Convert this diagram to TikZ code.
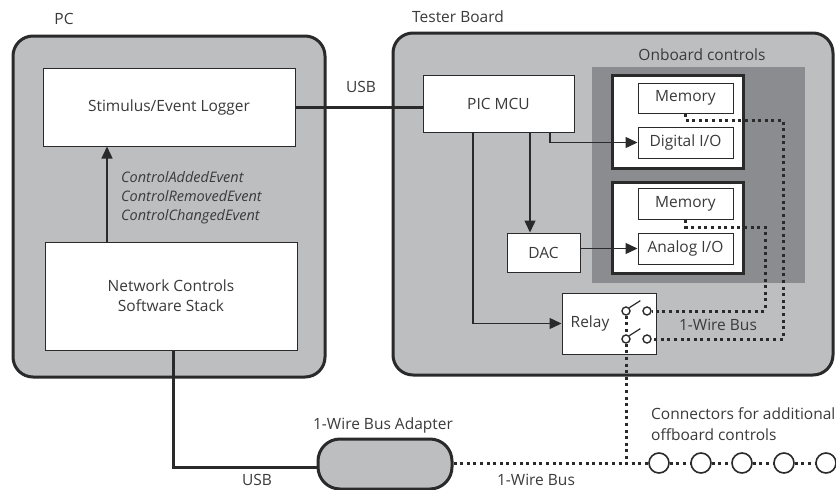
\documentclass[tikz,border=0pt]{standalone}
\usepackage{fontspec}
\setmainfont{Open Sans}
\usetikzlibrary{positioning, arrows.meta, calc}
\definecolor{boardgray}{HTML}{BCBEC0}
\definecolor{ctrlgray}{HTML}{8A8C8F}
\definecolor{linegray}{HTML}{2A2A2A}
\definecolor{textgray}{HTML}{3A3A3A}
\tikzset{
  container/.style={
    draw=linegray,
    line width=3pt,
    rounded corners=20pt,
    fill=boardgray,
    inner sep=0pt
  },
  block/.style={
    draw=linegray,
    line width=1pt,
    fill=white,
    align=center,
    inner sep=0pt,
    text=textgray,
    font=\fontsize{15.5}{20}\selectfont
  },
  module/.style={
    draw=linegray,
    line width=3pt,
    fill=white,
    inner sep=0pt
  },
  caption/.style={
    text=textgray,
    inner sep=0pt,
    font=\fontsize{15.5}{20}\selectfont
  },
  wire/.style={
    draw=linegray,
    line width=3pt
  },
  bus/.style={
    draw=linegray,
    line width=3pt,
    dash pattern=on 3pt off 3.6pt
  },
  signal/.style={
    draw=linegray,
    line width=1.4pt,
    -{Triangle[length=12pt,width=11pt]}
  },
  contact/.style={
    circle,
    draw=linegray,
    line width=1.4pt,
    fill=white,
    minimum size=8pt,
    inner sep=0pt
  },
  jack/.style={
    circle,
    draw=linegray,
    line width=1.6pt,
    fill=white,
    minimum size=20pt,
    inner sep=0pt
  }
}
\begin{document}
\begin{tikzpicture}[x=1pt, y=-1pt]
  \useasboundingbox[fill=white] (0,0) rectangle (836,490);

  % PC side
  \node[container, minimum width=312pt, minimum height=341pt] (pc) at (169,206.5) {};
  \node[caption] (pctitle) at (64,19) {PC};
  \node[block, minimum width=252pt, minimum height=78pt] (logger) at (169,107) {Stimulus/Event Logger};
  \node[block, minimum width=252pt, minimum height=108pt] (netstack) at (171,296) {Network Controls\\Software Stack};
  \draw[signal] ([xshift=-64pt]netstack.north) coordinate (evt) -- (evt |- logger.south);
  \node[caption, anchor=west, align=left, font=\fontsize{14.5}{19}\itshape] (events) at (121,198)
    {ControlAddedEvent\\ControlRemovedEvent\\ControlChangedEvent};

  % tester board
  \node[container, minimum width=440pt, minimum height=342pt] (board) at (613,204) {};
  \node[caption] (boardtitle) at (458,17) {Tester Board};
  \fill[ctrlgray] (592,67) rectangle (805,283);
  \node[caption] (ctrltitle) at (702,55) {Onboard controls};

  \node[block, minimum width=151pt, minimum height=57pt] (pic) at (498.5,103.5) {PIC MCU};
  \node[block, minimum width=73pt, minimum height=39pt] (dac) at (543.5,252.5) {DAC};
  \node[block, minimum width=94pt, minimum height=61pt] (relay) at (609,323.5) {};
  \node[caption] (relaytext) at (590,323) {Relay};

  \node[module, minimum width=131pt, minimum height=93pt] (digmod) at (677.5,121.5) {};
  \node[block, minimum width=95pt, minimum height=30pt] (mem1) at (685.5,98) {Memory};
  \node[block, minimum width=95pt, minimum height=31pt] (digio) at (685.5,142.5) {Digital I/O};
  \node[module, minimum width=131pt, minimum height=91pt] (anamod) at (677.5,227.5) {};
  \node[block, minimum width=95pt, minimum height=31pt] (mem2) at (685.5,203.5) {Memory};
  \node[block, minimum width=95pt, minimum height=31pt] (anio) at (685.5,248.5) {Analog I/O};

  % relay switches
  \node[contact] (sw1l) at (626,311) {};
  \node[contact] (sw1r) at (647,311) {};
  \node[contact] (sw2l) at (626,339) {};
  \node[contact] (sw2r) at (647,339) {};
  \draw[line width=1.2pt, linegray] (sw1l.45) -- ++(11,-7);
  \draw[line width=1.2pt, linegray] (sw2l.45) -- ++(11,-7);

  % control signals
  \draw[signal] ([xshift=51.5pt]pic.south) |- (digio.west);
  \draw[signal] ([xshift=31.5pt]pic.south) coordinate (toDac) -- (toDac |- dac.north);
  \draw[signal] ([xshift=-25.5pt]pic.south) |- (relay.west);
  \draw[signal] (anio.west -| dac.east) -- (anio.west);

  % USB links
  \draw[wire] (logger.east) -- (logger.east -| pic.west);
  \node[caption] (usbtop) at (361,87) {USB};

  \node[container, rounded corners=22pt, minimum width=134pt, minimum height=50pt] (adapter) at (385,464) {};
  \node[caption] (adaptertitle) at (383,425) {1-Wire Bus Adapter};
  \draw[wire] ([xshift=2pt]netstack.south) |- ([yshift=-3pt]adapter.west);
  \node[caption] (usbbottom) at (257,480) {USB};

  % 1-wire bus
  \coordinate (loopA) at (783,120);
  \coordinate (loopB) at (765,227);
  \draw[bus] (mem1.south) |- (loopA) |- (sw2r.east);
  \draw[bus] (mem2.south) |- (loopB) |- (sw1r.east);
  \draw[bus] (sw1l.south) -- (sw2l.north);
  \node[caption] (bustop) at (718,325) {1-Wire Bus};

  \foreach \i/\x in {1/659, 2/701, 3/742, 4/784, 5/826}
    \node[jack] (jack\i) at (\x,463) {};
  \coordinate (tap) at (sw2l |- jack1);
  \draw[bus] (sw2l.south) -- (tap);
  \draw[bus] (adapter.east |- jack1) -- (jack1.west);
  \foreach \a/\b in {1/2, 2/3, 3/4, 4/5}
    \draw[bus] (jack\a.east) -- (jack\b.west);
  \node[caption] (busbottom) at (536,480) {1-Wire Bus};
  \node[caption, anchor=west, align=left, font=\fontsize{15.5}{21}\selectfont] (offboard) at (651,424)
    {Connectors for additional\\offboard controls};
\end{tikzpicture}
\end{document}
